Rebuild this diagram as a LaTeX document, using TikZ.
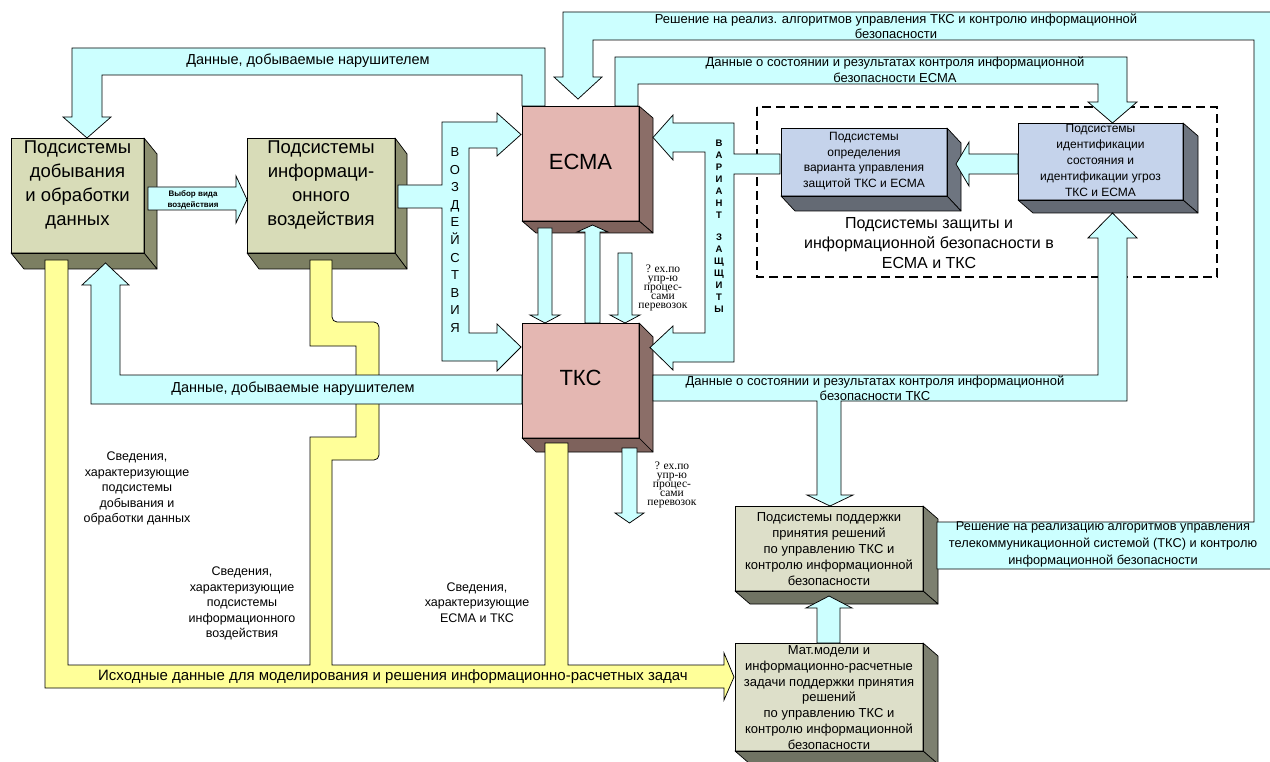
\documentclass[tikz,border=0pt]{standalone}
\usepackage{fontspec}
\setmainfont{Liberation Sans}
\newfontfamily\tms{Liberation Serif}
\usetikzlibrary{calc}

\definecolor{flow}{HTML}{CCFFFF}
\definecolor{feed}{HTML}{FFFF99}
\definecolor{oliveF}{HTML}{D8DCB8}
\definecolor{oliveS}{HTML}{8C8F70}
\definecolor{oliveB}{HTML}{7C7F62}
\definecolor{pinkF}{HTML}{E4B7B2}
\definecolor{pinkS}{HTML}{8B6E68}
\definecolor{pinkB}{HTML}{7E625C}
\definecolor{steelF}{HTML}{C5D3EB}
\definecolor{steelS}{HTML}{6E7580}
\definecolor{steelB}{HTML}{646A74}
\definecolor{greyF}{HTML}{DDDFC9}
\definecolor{greyS}{HTML}{7D8070}
\definecolor{greyB}{HTML}{707363}

\newcommand\fs[2]{\fontsize{#1}{#2}\selectfont}
% side and bottom faces of a block whose front face is node #1
\newcommand\extrude[5]{%
  \filldraw[fill=#4,draw=black,line width=0.7pt,line join=round]
    (#1.north east) -- ++(#2,#3) -- ($(#1.south east)+(#2,#3)$) -- (#1.south east) -- cycle;
  \filldraw[fill=#5,draw=black,line width=0.7pt,line join=round]
    (#1.south west) -- (#1.south east) -- ($(#1.south east)+(#2,#3)$) -- ($(#1.south west)+(#2,#3)$) -- cycle;
  \draw[line width=0.7pt] (#1.north west) rectangle (#1.south east);
}

\begin{document}
\begin{tikzpicture}[x=1pt,y=-1pt,
  edge/.style={draw=black,line width=0.75pt,line join=miter},
  flowarrow/.style={edge,fill=flow},
  feedarrow/.style={edge,fill=feed},
  face/.style={draw=black,line width=0.7pt,inner sep=0pt,outer sep=0pt},
  lbl/.style={align=center,inner sep=0pt},
]
\useasboundingbox (0,0) rectangle (1270,762);
\clip (0,0) rectangle (1270,762);
\fill[white] (0,0) rectangle (1270,762);

% dashed frame around the protection subsystems
\draw[line width=2.4pt,dash pattern=on 9pt off 5pt] (757,107) rectangle (1217,277);

% blocks
\node[face,fill=oliveF,minimum width=133pt,minimum height=115pt] (b1) at (77.5,195.5) {};
\extrude{b1}{13}{16}{oliveS}{oliveB}
\node[face,fill=oliveF,minimum width=148pt,minimum height=115pt] (b2) at (321,195.5) {};
\extrude{b2}{12}{16}{oliveS}{oliveB}
\node[face,fill=pinkF,minimum width=117pt,minimum height=115pt] (ecma) at (580.5,163.5) {};
\extrude{ecma}{14}{12}{pinkS}{pinkB}
\node[face,fill=pinkF,minimum width=117pt,minimum height=115pt] (tks) at (580.5,380.5) {};
\extrude{tks}{14}{14}{pinkS}{pinkB}
\node[face,fill=steelF,minimum width=166pt,minimum height=68pt] (det) at (864,162) {};
\extrude{det}{14}{15}{steelS}{steelB}
\node[face,fill=steelF,minimum width=165pt,minimum height=77pt] (ident) at (1100.5,161.5) {};
\extrude{ident}{15}{13}{steelS}{steelB}
\node[face,fill=greyF,minimum width=188pt,minimum height=85pt] (supp) at (829,548.5) {};
\extrude{supp}{15}{13}{greyS}{greyB}
\node[face,fill=greyF,minimum width=188pt,minimum height=108pt] (mat) at (829,697) {};
\extrude{mat}{15}{13}{greyS}{greyB}

% source data bus (yellow)
\draw[feedarrow] (45,260) -- (45,688) -- (724,688) -- (724,700) -- (734,677) -- (724,653)
  -- (724,665) -- (568,665) -- (568,443) -- (545,443) -- (545,665) -- (332,665) -- (332,460)
  [rounded corners=5pt] -- (379,460) -- (379,322) -- (332,322) [sharp corners]
  -- (332,260) -- (310,260) -- (310,346) -- (356,346) -- (356,437) -- (310,437)
  -- (310,665) -- (68,665) -- (68,260) -- cycle;

% flows
\draw[flowarrow] (545,106) -- (545,48) -- (72,48) -- (72,117) -- (63,117) -- (87,138)
  -- (111,117) -- (102,117) -- (102,75) -- (522,75) -- (522,106) -- cycle;
\draw[flowarrow] (937,522) -- (1254,522) -- (1254,40) -- (593,40) -- (593,77) -- (602,77)
  -- (578,99) -- (554,77) -- (563,77) -- (563,12) -- (1290,12) -- (1290,569) -- (937,569) -- cycle;
\draw[flowarrow] (615,106) -- (615,57) -- (1127,57) -- (1127,102) -- (1137,102) -- (1112.5,123)
  -- (1088,102) -- (1098,102) -- (1098,84) -- (638,84) -- (638,106) -- cycle;
\draw[flowarrow] (398,185) -- (442,185) -- (442,122) -- (497,122) -- (497,113) -- (521,134.5)
  -- (497,156) -- (497,148) -- (469,148) -- (469,333) -- (497,333) -- (497,324) -- (521,347)
  -- (497,371) -- (497,361) -- (442,361) -- (442,208) -- (398,208) -- cycle;
\draw[flowarrow] (780,154) -- (734,154) -- (734,123) -- (673,123) -- (673,115) -- (653,137.5)
  -- (673,160) -- (673,152) -- (705,152) -- (705,333) -- (673,333) -- (673,326) -- (650,347.5)
  -- (673,370) -- (673,362) -- (734,362) -- (734,174) -- (780,174) -- cycle;
\draw[flowarrow] (1018,154) -- (969,154) -- (969,142) -- (956,164) -- (969,186) -- (969,174)
  -- (1018,174) -- cycle;
\draw[flowarrow] (653,375) -- (1098,375) -- (1098,238) -- (1088,238) -- (1112.5,213) -- (1137,238)
  -- (1127,238) -- (1127,401) -- (841,401) -- (841,495) -- (853,495) -- (830,506) -- (807,495)
  -- (817,495) -- (817,401) -- (653,401) -- cycle;
\draw[flowarrow] (522,375) -- (120,375) -- (120,285) -- (129,285) -- (105.5,263) -- (82,285)
  -- (91,285) -- (91,404) -- (522,404) -- cycle;
\draw[flowarrow] (148,187) -- (236,187) -- (236,176) -- (247,199.5) -- (236,223) -- (236,210)
  -- (148,210) -- cycle;
\draw[flowarrow] (538,228) -- (552,228) -- (552,315) -- (560,315) -- (545,323) -- (530,315)
  -- (538,315) -- cycle;
\draw[flowarrow] (585,323) -- (585,232) -- (577,232) -- (592.5,225) -- (608,232) -- (600,232)
  -- (600,323) -- cycle;
\draw[flowarrow] (618,253) -- (632,253) -- (632,315) -- (640,315) -- (625,323) -- (610,315)
  -- (618,315) -- cycle;
\draw[flowarrow] (622,448) -- (637,448) -- (637,513) -- (644,513) -- (629.5,523) -- (615,513)
  -- (622,513) -- cycle;
\draw[flowarrow] (817,643) -- (817,608) -- (806,608) -- (829,596) -- (852,608) -- (840,608)
  -- (840,643) -- cycle;

% block captions
\node[lbl,font=\fs{18.5}{24}] (b1t) at (77.5,185) {Подсистемы\\добывания\\и обработки\\данных};
\node[lbl,font=\fs{18.5}{24}] (b2t) at (321,185) {Подсистемы\\информаци-\\онного\\воздействия};
\node[lbl,font=\fs{22}{26}] (ecmat) at (580.5,162) {ЕСМА};
\node[lbl,font=\fs{22}{26}] (tkst) at (580.5,378) {ТКС};
\node[lbl,font=\fs{12}{15.7}] (dett) at (864,161) {Подсистемы\\определения\\варианта управления\\защитой ТКС и ЕСМА};
\node[lbl,font=\fs{12}{16}] (identt) at (1100.5,160.5) {Подсистемы\\идентификации\\состояния и\\идентификации угроз\\ТКС и ЕСМА};
\node[lbl,font=\fs{16}{20}] (framet) at (929,243) {Подсистемы защиты и\\информационной безопасности в\\ЕСМА и ТКС};
\node[lbl,font=\fs{13}{15.8}] (suppt) at (829,549) {Подсистемы поддержки\\принятия решений\\по управлению ТКС и\\контролю информационной\\безопасности};
\node[lbl,font=\fs{13}{15.7}] (matt) at (829,697.5) {Мат.модели и\\информационно-расчетные\\задачи поддержки принятия\\решений\\по управлению ТКС и\\контролю информационной\\безопасности};

% flow captions
\node[lbl,font=\fs{14.5}{17}] (d1) at (308,61) {Данные, добываемые нарушителем};
\node[lbl,font=\fs{14.5}{17}] (d2) at (293,389) {Данные, добываемые нарушителем};
\node[lbl,font=\fs{13}{15}] (dec) at (896,26.5) {Решение на реализ. алгоритмов управления ТКС и контролю информационной\\безопасности};
\node[lbl,font=\fs{13}{16}] (se) at (895,70) {Данные о состоянии и результатах контроля информационной\\безопасности ЕСМА};
\node[lbl,font=\fs{13}{15}] (st) at (875,388) {Данные о состоянии и результатах контроля информационной\\безопасности ТКС};
\node[lbl,font=\fs{12.8}{17}] (dr) at (1103,544.5) {Решение на реализацию алгоритмов управления\\телекоммуникационной системой (ТКС) и контролю\\информационной безопасности};
\node[lbl,font=\fs{15}{17}] (src) at (393,677) {Исходные данные для моделирования и решения информационно-расчетных задач};
\node[lbl,font=\bfseries\fs{8}{11}] (ch) at (193,199.5) {Выбор вида\\воздействия};
\node[lbl,font=\fs{13}{17.6}] (vz) at (455,240) {В\\О\\З\\Д\\Е\\Й\\С\\Т\\В\\И\\Я};
\node[lbl,font=\bfseries\fs{9.5}{12}] (va) at (719,179) {В\\А\\Р\\И\\А\\Н\\Т};
\node[lbl,font=\bfseries\fs{9.5}{12}] (za) at (719,273) {З\\А\\Щ\\Щ\\И\\Т\\Ы};
\node[lbl,font=\tms\fs{11.5}{9}] (q1) at (663,288) {? ех.по\\упр-ю\\процес-\\сами\\перевозок};
\node[lbl,font=\tms\fs{11.5}{9}] (q2) at (672,485) {? ех.по\\упр-ю\\процес-\\сами\\перевозок};
\node[lbl,font=\fs{12.5}{15.5}] (s1) at (137,488.5) {Сведения,\\характеризующие\\подсистемы\\добывания и\\обработки данных};
\node[lbl,font=\fs{12.5}{15.5}] (s2) at (242,603.5) {Сведения,\\характеризующие\\подсистемы\\информационного\\воздействия};
\node[lbl,font=\fs{12.5}{15.5}] (s3) at (477,602.5) {Сведения,\\характеризующие\\ЕСМА и ТКС};
\end{tikzpicture}
\end{document}
